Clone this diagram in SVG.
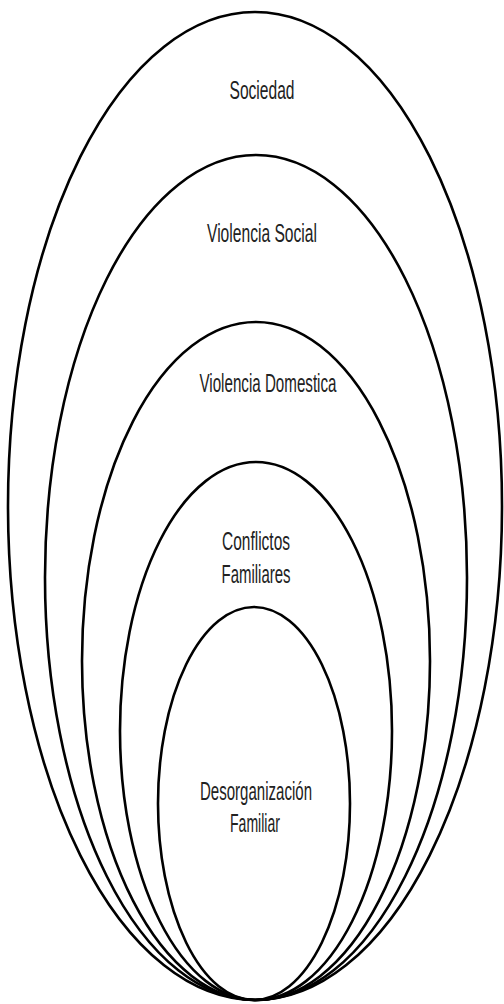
<svg xmlns="http://www.w3.org/2000/svg" width="504" height="1004" viewBox="0 0 504 1004">
<style>
.e{fill:none;stroke:#000;stroke-width:2.6}
.t{font-family:"Liberation Sans",Arial,sans-serif;font-size:26px;fill:#222;text-anchor:middle}
</style>
<rect width="504" height="1004" fill="#fff"/>
<g id="sociedad"><ellipse class="e" cx="255" cy="506" rx="247" ry="494"/>
<text class="t" x="262" y="99" textLength="65" lengthAdjust="spacingAndGlyphs">Sociedad</text></g>
<g id="violencia-social"><ellipse class="e" cx="256" cy="577.5" rx="211" ry="422.5"/>
<text class="t" x="262" y="242" textLength="110" lengthAdjust="spacingAndGlyphs">Violencia Social</text></g>
<g id="violencia-domestica"><ellipse class="e" cx="256" cy="661" rx="174" ry="339"/>
<text class="t" x="268" y="392" textLength="137" lengthAdjust="spacingAndGlyphs">Violencia Domestica</text></g>
<g id="conflictos-familiares"><ellipse class="e" cx="256" cy="731" rx="136" ry="269"/>
<text class="t" x="256" y="550" textLength="68" lengthAdjust="spacingAndGlyphs">Conflictos</text>
<text class="t" x="256" y="583" textLength="69" lengthAdjust="spacingAndGlyphs">Familiares</text></g>
<g id="desorganizacion-familiar"><ellipse class="e" cx="254" cy="803.5" rx="96" ry="196.5"/>
<text class="t" x="256" y="800" textLength="112" lengthAdjust="spacingAndGlyphs">Desorganización</text>
<text class="t" x="255" y="832" textLength="50" lengthAdjust="spacingAndGlyphs">Familiar</text></g>
<g id="connectors"/>
</svg>
